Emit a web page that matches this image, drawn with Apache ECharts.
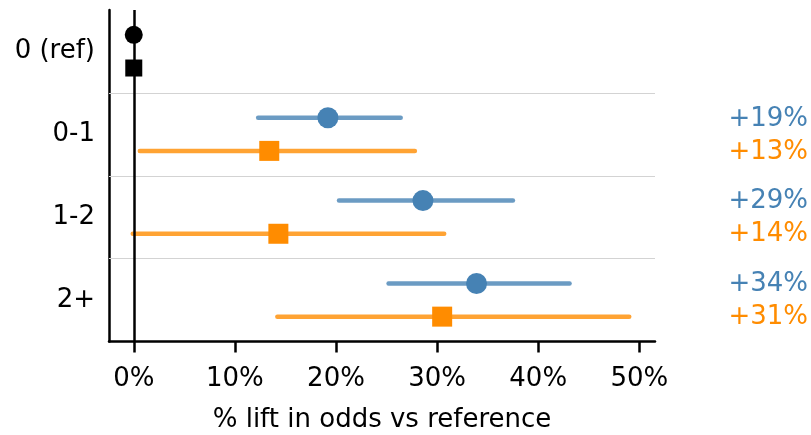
<!DOCTYPE html>
<html><head><meta charset="utf-8">
<script src="https://cdn.jsdelivr.net/npm/echarts@6/dist/echarts.min.js"></script>
<style>html,body{margin:0;padding:0;background:#fff}#c{width:811px;height:435px}</style>
</head><body><div id="c"></div>
<script>
const categories = ['0 (ref)', '0-1', '1-2', '2+'];
const blueEst = [0, 19.2, 28.6, 33.9];
const blueLo = [0, 12.3, 20.3, 25.2];
const blueHi = [0, 26.4, 37.5, 43.1];
const orangeEst = [0, 13.4, 14.3, 30.5];
const orangeLo = [0, 0.6, -0.1, 14.2];
const orangeHi = [0, 27.8, 30.7, 49.0];
const blueLabels = ['', '+19%', '+29%', '+34%'];
const orangeLabels = ['', '+13%', '+14%', '+31%'];
const xTicks = [0, 10, 20, 30, 40, 50];
const separators = [0.5, 1.5, 2.5];

const FONT = 'DejaVu Sans';
const FS = 26;
const BLUE = '#4682b4', ORANGE = '#ff8c00';
const OFF = 0.2;

function errData(lo, hi, off) {
  const out = [];
  for (let i = 1; i < categories.length; i++) out.push([lo[i], hi[i], i + off]);
  return out;
}
function ptData(est, off, refSize) {
  return est.map((v, i) => i === 0
    ? { value: [v, i + off], symbolSize: refSize, itemStyle: { color: '#000' } }
    : { value: [v, i + off] });
}
function errRender(color) {
  return function (params, api) {
    const p1 = api.coord([api.value(0), api.value(2)]);
    const p2 = api.coord([api.value(1), api.value(2)]);
    return { type: 'line', shape: { x1: p1[0], y1: p1[1], x2: p2[0], y2: p2[1] },
      style: { stroke: color, lineWidth: 4.5, lineCap: 'round' } };
  };
}

const chart = echarts.init(document.getElementById('c'), null, { renderer: 'canvas' });
chart.setOption({
  animation: false,
  textStyle: { fontFamily: FONT },
  grid: { left: 109, right: 156, top: 10, bottom: 93.5, containLabel: false, outerBoundsMode: 'none' },
  xAxis: {
    type: 'value', min: -2.45, max: 51.55, position: 'bottom',
    axisLine: { show: true, onZero: false, lineStyle: { color: '#000', width: 2.5 } },
    axisTick: { show: true, customValues: xTicks, length: 11, lineStyle: { color: '#000', width: 2.5 } },
    axisLabel: { customValues: xTicks, formatter: '{value}%', fontSize: FS, color: '#000', margin: 25, fontFamily: FONT },
    splitLine: { show: false },
    name: '% lift in odds vs reference', nameLocation: 'middle', nameGap: 66,
    nameTextStyle: { fontSize: FS, color: '#000', fontFamily: FONT }
  },
  yAxis: [
    { type: 'category', data: categories, inverse: true, position: 'left',
      axisLine: { show: true, onZero: false, lineStyle: { color: '#000', width: 2.5 } },
      axisTick: { show: false }, splitLine: { show: false },
      axisLabel: { fontSize: FS, color: '#000', margin: 14, fontFamily: FONT, padding: [9, 0, 0, 0] } },
    { type: 'category', data: categories, inverse: true, position: 'right',
      axisLine: { show: false, onZero: false }, axisTick: { show: false }, splitLine: { show: false },
      axisLabel: { margin: 153, align: 'right', fontFamily: FONT, padding: [2, 0, 0, 0],
        formatter: (v, i) => blueLabels[i] ? '{b|' + blueLabels[i] + '}\n{o|' + orangeLabels[i] + '}' : '',
        rich: { b: { color: BLUE, fontSize: FS, lineHeight: 33, fontFamily: FONT },
                o: { color: ORANGE, fontSize: FS, lineHeight: 33, fontFamily: FONT } } } },
    { type: 'value', min: -0.5, max: 3.5, inverse: true, show: false,
      axisLine: { onZero: false } }
  ],
  series: [
    { type: 'custom', yAxisIndex: 2, renderItem: errRender('rgba(70,130,180,0.8)'),
      encode: { x: [0, 1], y: 2 }, data: errData(blueLo, blueHi, -OFF), z: 3, silent: true,
      markLine: { silent: true, symbol: 'none', label: { show: false },
        lineStyle: { color: '#d3d3d3', width: 1.2, type: 'solid' },
        data: separators.map(v => ({ yAxis: v })) } },
    { type: 'custom', yAxisIndex: 2, renderItem: errRender('rgba(255,140,0,0.8)'),
      encode: { x: [0, 1], y: 2 }, data: errData(orangeLo, orangeHi, OFF), z: 3, silent: true,
      markLine: { silent: true, symbol: 'none', label: { show: false },
        lineStyle: { color: '#000', width: 2.5, type: 'solid' },
        data: [{ xAxis: 0 }] } },
    { type: 'scatter', yAxisIndex: 2, symbol: 'circle', symbolSize: 21,
      itemStyle: { color: BLUE, opacity: 1 }, data: ptData(blueEst, -OFF, 18), z: 5, silent: true },
    { type: 'scatter', yAxisIndex: 2, symbol: 'rect', symbolSize: 20,
      itemStyle: { color: ORANGE, opacity: 1 }, data: ptData(orangeEst, OFF, 17), z: 5, silent: true }
  ]
});
</script>
</body></html>
